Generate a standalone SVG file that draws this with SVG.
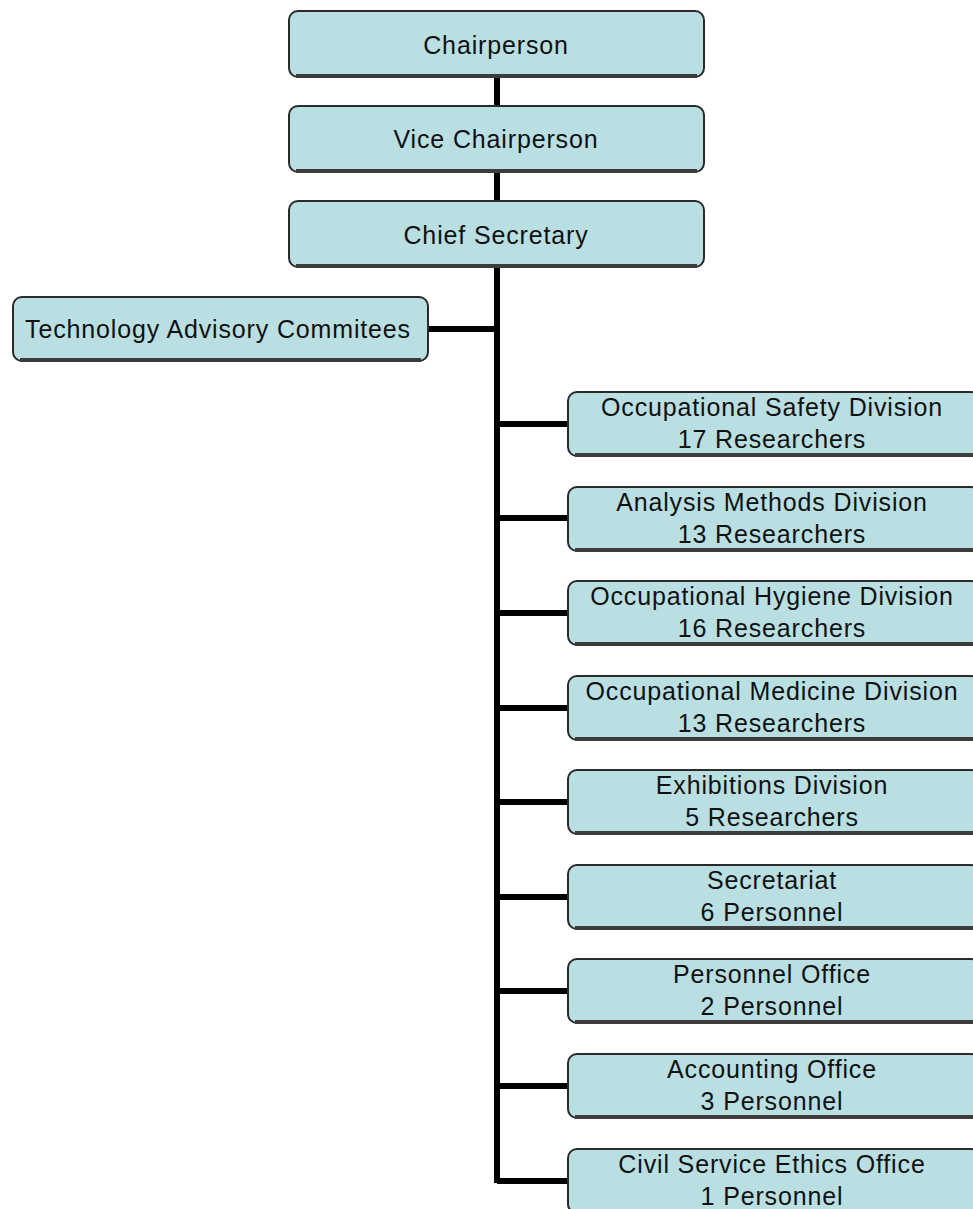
<svg xmlns="http://www.w3.org/2000/svg" width="973" height="1209" viewBox="0 0 973 1209">
<style>
.box{fill:#b9dfe2;stroke:#2a2a2a;stroke-width:2}
.sh{fill:none;stroke:#3c3c3c;stroke-width:4}
.t{font-family:"Liberation Sans",Arial,sans-serif;font-size:25px;fill:#111;text-anchor:middle;letter-spacing:0.85px}
.ln{stroke:#000;stroke-width:6;fill:none}
</style>
<rect width="973" height="1209" fill="#fff"/>
<g id="connectors">
<path class="ln" d="M497 77V1183"/>
<path class="ln" d="M428 329H497"/>
<path class="ln" d="M497 424H568M497 518H568M497 613H568M497 708H568M497 802H568M497 897H568M497 991H568M497 1086H568M497 1181H568"/>
</g>
<g id="chair"><rect class="box" x="289" y="11" width="415" height="66" rx="9"/><path class="sh" d="M296 76H697"/><text class="t" x="496" y="54">Chairperson</text></g>
<g id="vice"><rect class="box" x="289" y="106" width="415" height="66" rx="9"/><path class="sh" d="M296 171H697"/><text class="t" x="496" y="148">Vice Chairperson</text></g>
<g id="chief"><rect class="box" x="289" y="201" width="415" height="66" rx="9"/><path class="sh" d="M296 266H697"/><text class="t" x="496" y="244">Chief Secretary</text></g>
<g id="tech"><rect class="box" x="13" y="297" width="415" height="64" rx="9"/><path class="sh" d="M20 360H421"/><text class="t" x="218" y="338">Technology Advisory Commitees</text></g>
<g id="d1"><rect class="box" x="568" y="392" width="412" height="64" rx="9"/><path class="sh" d="M575 455H980"/><text class="t" x="772" y="416">Occupational Safety Division</text><text class="t" x="772" y="448">17 Researchers</text></g>
<g id="d2"><rect class="box" x="568" y="487" width="412" height="64" rx="9"/><path class="sh" d="M575 550H980"/><text class="t" x="772" y="511">Analysis Methods Division</text><text class="t" x="772" y="543">13 Researchers</text></g>
<g id="d3"><rect class="box" x="568" y="581" width="412" height="64" rx="9"/><path class="sh" d="M575 644H980"/><text class="t" x="772" y="605">Occupational Hygiene Division</text><text class="t" x="772" y="637">16 Researchers</text></g>
<g id="d4"><rect class="box" x="568" y="676" width="412" height="64" rx="9"/><path class="sh" d="M575 739H980"/><text class="t" x="772" y="700">Occupational Medicine Division</text><text class="t" x="772" y="732">13 Researchers</text></g>
<g id="d5"><rect class="box" x="568" y="770" width="412" height="64" rx="9"/><path class="sh" d="M575 833H980"/><text class="t" x="772" y="794">Exhibitions Division</text><text class="t" x="772" y="826">5 Researchers</text></g>
<g id="d6"><rect class="box" x="568" y="865" width="412" height="64" rx="9"/><path class="sh" d="M575 928H980"/><text class="t" x="772" y="889">Secretariat</text><text class="t" x="772" y="921">6 Personnel</text></g>
<g id="d7"><rect class="box" x="568" y="959" width="412" height="64" rx="9"/><path class="sh" d="M575 1022H980"/><text class="t" x="772" y="983">Personnel Office</text><text class="t" x="772" y="1015">2 Personnel</text></g>
<g id="d8"><rect class="box" x="568" y="1054" width="412" height="64" rx="9"/><path class="sh" d="M575 1117H980"/><text class="t" x="772" y="1078">Accounting Office</text><text class="t" x="772" y="1110">3 Personnel</text></g>
<g id="d9"><rect class="box" x="568" y="1149" width="412" height="64" rx="9"/><text class="t" x="772" y="1173">Civil Service Ethics Office</text><text class="t" x="772" y="1205">1 Personnel</text></g>
</svg>
